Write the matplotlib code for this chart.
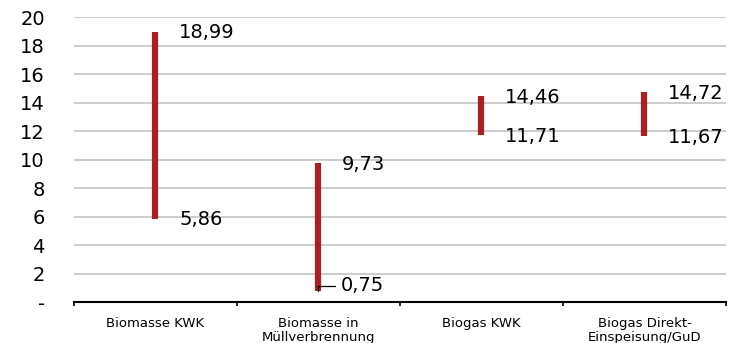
import matplotlib.pyplot as plt
from matplotlib.ticker import FixedLocator

# Spannen je Technologie (min / max)
categories = ['Biomasse KWK', 'Biomasse in\nMüllverbrennung', 'Biogas KWK', 'Biogas Direkt-\nEinspeisung/GuD']
low = [5.86, 0.75, 11.71, 11.67]
high = [18.99, 9.73, 14.46, 14.72]
y_ticks = [0, 2, 4, 6, 8, 10, 12, 14, 16, 18, 20]
y_labels = ['-', '2', '4', '6', '8', '10', '12', '14', '16', '18', '20']

red = '#a52126'

fig = plt.figure(figsize=(7.4, 3.43), dpi=100)
ax = fig.add_axes([0.1, 0.1195, 0.881, 0.8305])

x = list(range(len(categories)))
ax.vlines(x, low, high, color=red, linewidth=4.5, zorder=3)

def fmt(v):
    return f'{v:.2f}'.replace('.', ',')

for i in x:
    ax.annotate(fmt(high[i]), (i, high[i]), xytext=(17, -1), textcoords='offset points',
                ha='left', va='center', fontsize=14)
    if low[i] < 2:
        # kleiner Wert: Beschriftung leicht angehoben, mit Hinweislinie
        ax.annotate(fmt(low[i]), (i, low[i]), xytext=(16, 4), textcoords='offset points',
                    ha='left', va='center', fontsize=14,
                    arrowprops=dict(arrowstyle='-', color='black', lw=0.9,
                                    connectionstyle='angle,angleA=0,angleB=90,rad=0',
                                    shrinkA=2, shrinkB=0))
    else:
        ax.annotate(fmt(low[i]), (i, low[i]), xytext=(17, -1), textcoords='offset points',
                    ha='left', va='center', fontsize=14)

ax.set_xlim(-0.5, len(categories) - 0.5)
ax.set_ylim(0, 20)
ax.set_yticks(y_ticks)
ax.set_yticklabels(y_labels, fontsize=14)
ax.tick_params(axis='y', length=0, pad=21)

ax.set_xticks(x)
ax.set_xticklabels(categories, fontsize=9.5, linespacing=1.1)
ax.tick_params(axis='x', which='major', length=0, pad=10.5)
ax.xaxis.set_minor_locator(FixedLocator([i - 0.5 for i in range(len(categories) + 1)]))
ax.tick_params(axis='x', which='minor', length=3, width=1.2, direction='out')

ax.grid(axis='y', color='#c4c4c4', linewidth=1.2)
ax.set_axisbelow(True)
for side in ['left', 'right', 'top']:
    ax.spines[side].set_visible(False)
ax.spines['bottom'].set_linewidth(1.5)

fig.savefig('out.png', dpi=100)
